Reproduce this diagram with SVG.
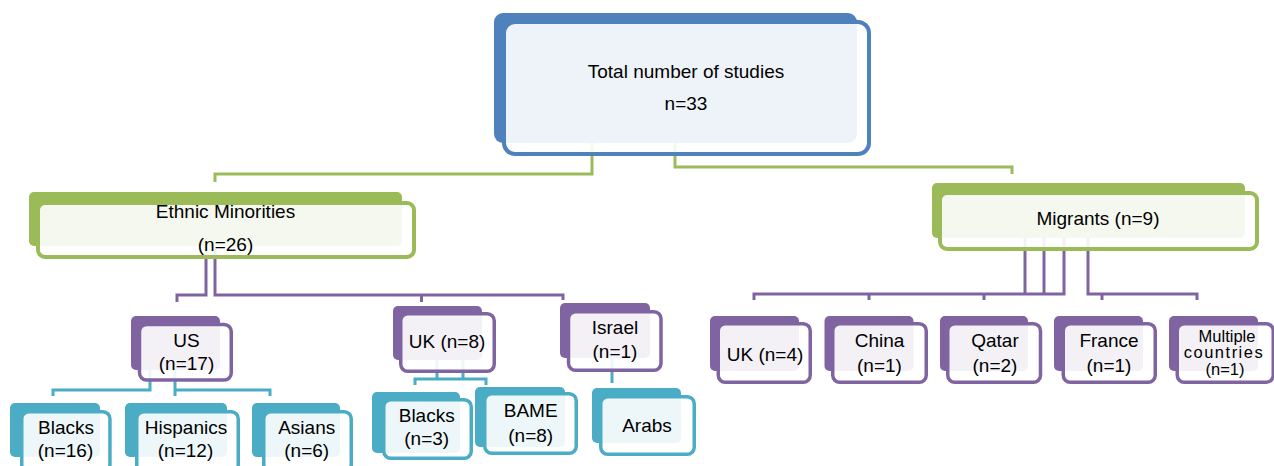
<svg xmlns="http://www.w3.org/2000/svg" width="1274" height="466" viewBox="0 0 1274 466">
<style>
.c{fill:none;stroke-width:3;stroke-linejoin:miter;stroke-linecap:butt}
.cg{stroke:#9BBB59}.cp{stroke:#8064A2}.cb{stroke:#4BACC6}
.bb{fill:#4F81BD}.bg{fill:#9BBB59}.bp{fill:#8064A2}.bt{fill:#4BACC6}
.f{fill:#FFFFFF;fill-opacity:0.9}
.fb{stroke:#4F81BD;stroke-width:4}.fg{stroke:#9BBB59;stroke-width:4}
.fp{stroke:#8064A2;stroke-width:3.5}.ft{stroke:#4BACC6;stroke-width:3.5}
text{font-family:"Liberation Sans",Arial,sans-serif;font-size:19px;fill:#000;text-anchor:middle}
.sm{font-size:16.5px}
</style>
<rect width="1274" height="466" fill="#FFFFFF"/>
<g id="connectors">
<path class="c cg" d="M592,140 V174 H215 V182"/>
<path class="c cg" d="M675,140 V167 H1012 V174"/>
<path class="c cp" d="M206,243 V295 H177 V302"/>
<path class="c cp" d="M215,243 V295 H563 V300"/>
<path class="c cp" d="M421.5,295 V302"/>
<path class="c cp" d="M1025,235 V294"/>
<path class="c cp" d="M1044,235 V294"/>
<path class="c cp" d="M1064,235 V294 H754 V300"/>
<path class="c cp" d="M1088,235 V294 H1197 V300"/>
<path class="c cp" d="M869,294 V300 M984,294 V300 M1102,294 V300"/>
<path class="c cb" d="M150,367 V390 H53 V396"/>
<path class="c cb" d="M175,367 V396 M175,390 H270 V396"/>
<path class="c cb" d="M437,357 V379 M463,357 V379 M415,385 V379 H486 V385"/>
<path class="c cb" d="M612,355 V383"/>
</g>
<g id="total">
<rect class="bb" x="494" y="13" width="363" height="130" rx="9"/>
<rect class="f fb" x="504" y="22" width="365" height="132" rx="11"/>
<text x="686" y="78">Total number of studies</text>
<text x="686" y="110">n=33</text>
</g>
<g id="ethnic">
<rect class="bg" x="29" y="192" width="373" height="54" rx="5"/>
<rect class="f fg" x="38" y="203" width="376" height="54" rx="7"/>
<text x="225.5" y="218">Ethnic Minorities</text>
<text x="225.5" y="250.5">(n=26)</text>
</g>
<g id="migrants">
<rect class="bg" x="932" y="183" width="313" height="55" rx="5"/>
<rect class="f fg" x="940" y="193" width="317" height="56" rx="7"/>
<text x="1098" y="225">Migrants (n=9)</text>
</g>
<g id="us">
<rect class="bp" x="131" y="316" width="89" height="54" rx="5"/>
<rect class="f fp" x="139.5" y="324.5" width="91.75" height="55.5" rx="7"/>
<text x="186.5" y="346.7">US</text>
<text x="186.5" y="370">(n=17)</text>
</g>
<g id="uk8">
<rect class="bp" x="393" y="306" width="89" height="54" rx="5"/>
<rect class="f fp" x="400.75" y="313.75" width="93.5" height="57.5" rx="7"/>
<text x="447" y="348">UK (n=8)</text>
</g>
<g id="israel">
<rect class="bp" x="560" y="303" width="90" height="55" rx="5"/>
<rect class="f fp" x="568.5" y="311.75" width="92.5" height="58.5" rx="7"/>
<text x="615" y="334.3">Israel</text>
<text x="615" y="358.3">(n=1)</text>
</g>
<g id="us-blacks">
<rect class="bt" x="10" y="403" width="90" height="54" rx="5"/>
<rect class="f ft" x="21.75" y="411.75" width="88.2" height="60" rx="7"/>
<text x="66" y="434">Blacks</text>
<text x="65.5" y="457">(n=16)</text>
</g>
<g id="us-hispanics">
<rect class="bt" x="125" y="403" width="102" height="54" rx="5"/>
<rect class="f ft" x="136.75" y="411.75" width="101.5" height="60" rx="7"/>
<text x="186" y="434">Hispanics</text>
<text x="185.5" y="457">(n=12)</text>
</g>
<g id="us-asians">
<rect class="bt" x="252" y="403" width="88" height="54" rx="5"/>
<rect class="f ft" x="263.75" y="411.75" width="87.5" height="60" rx="7"/>
<text x="306.7" y="434">Asians</text>
<text x="306.7" y="457">(n=6)</text>
</g>
<g id="uk-blacks">
<rect class="bt" x="372" y="392" width="88" height="61" rx="5"/>
<rect class="f ft" x="383.75" y="399.75" width="87.5" height="58.5" rx="7"/>
<text x="426.7" y="421.7">Blacks</text>
<text x="426.7" y="445">(n=3)</text>
</g>
<g id="uk-bame">
<rect class="bt" x="475" y="387" width="90" height="60" rx="5"/>
<rect class="f ft" x="484.75" y="393.75" width="91.5" height="59.5" rx="7"/>
<text x="530.7" y="417.3">BAME</text>
<text x="530.7" y="441.7">(n=8)</text>
</g>
<g id="israel-arabs">
<rect class="bt" x="592" y="388" width="89" height="55" rx="5"/>
<rect class="f ft" x="600.75" y="396.75" width="93.5" height="57.5" rx="7"/>
<text x="647" y="431.7">Arabs</text>
</g>
<g id="mig-uk">
<rect class="bp" x="710" y="316" width="89" height="55" rx="5"/>
<rect class="f fp" x="718.25" y="323.75" width="92" height="58.5" rx="7"/>
<text x="765" y="360.7">UK (n=4)</text>
</g>
<g id="mig-china">
<rect class="bp" x="824.5" y="316" width="89" height="55" rx="5"/>
<rect class="f fp" x="832.75" y="323.75" width="93.5" height="58.5" rx="7"/>
<text x="879.5" y="347.3">China</text>
<text x="879.5" y="372">(n=1)</text>
</g>
<g id="mig-qatar">
<rect class="bp" x="940" y="316" width="88" height="55" rx="5"/>
<rect class="f fp" x="947.75" y="323.75" width="92.75" height="58.5" rx="7"/>
<text x="995" y="347.3">Qatar</text>
<text x="995" y="372">(n=2)</text>
</g>
<g id="mig-france">
<rect class="bp" x="1054" y="316" width="89" height="55" rx="5"/>
<rect class="f fp" x="1063.25" y="323.75" width="92" height="58.5" rx="7"/>
<text x="1109" y="347.3">France</text>
<text x="1109" y="372">(n=1)</text>
</g>
<g id="mig-multiple">
<rect class="bp" x="1169" y="316" width="89" height="55" rx="5"/>
<rect class="f fp" x="1177.25" y="323.75" width="96" height="58.5" rx="7"/>
<text class="sm" x="1227" y="341.5">Multiple</text>
<text class="sm" x="1224" y="358" style="letter-spacing:1.5px">countries</text>
<text class="sm" x="1225" y="374.5">(n=1)</text>
</g>
</svg>
